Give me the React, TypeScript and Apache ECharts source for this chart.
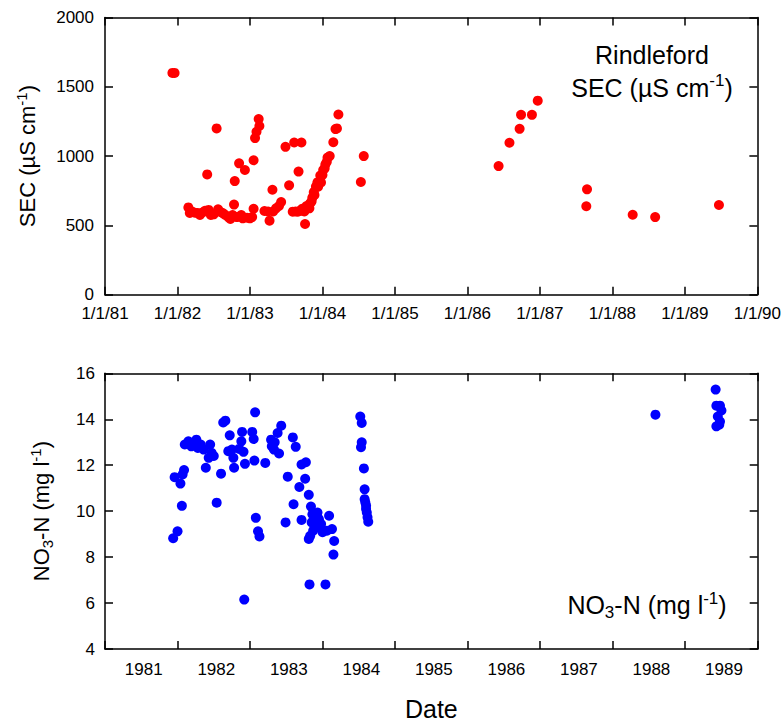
import React, { useEffect, useRef } from "react";
import * as echarts from "echarts";

// ---- SEC (top panel) : decimal year, value (µS cm-1)
const secDates = [
  1981.93, 1981.96, 1982.15, 1982.17, 1982.2, 1982.24, 1982.28, 1982.31, 1982.35, 1982.38,
  1982.41, 1982.43, 1982.46, 1982.5, 1982.54, 1982.56, 1982.6, 1982.63, 1982.66, 1982.7,
  1982.73, 1982.76, 1982.78, 1982.79, 1982.82, 1982.85, 1982.88, 1982.9, 1982.93, 1982.96,
  1983.0, 1983.03, 1983.05, 1983.05, 1983.07, 1983.09, 1983.12, 1983.13, 1983.2, 1983.25,
  1983.27, 1983.31, 1983.32, 1983.36, 1983.4, 1983.43, 1983.49, 1983.54, 1983.59, 1983.61,
  1983.63, 1983.66, 1983.67, 1983.69, 1983.71, 1983.72, 1983.75, 1983.76, 1983.78, 1983.8,
  1983.82, 1983.83, 1983.85, 1983.86, 1983.88, 1983.89, 1983.91, 1983.93, 1983.94, 1983.96,
  1983.97, 1983.98, 1984.0, 1984.01, 1984.03, 1984.04, 1984.06, 1984.07, 1984.1, 1984.15,
  1984.18, 1984.2, 1984.22, 1984.53, 1984.57, 1986.43, 1986.58, 1986.72, 1986.74, 1986.89,
  1986.97, 1987.64, 1987.65, 1988.28, 1988.59, 1989.47,
];
const secValues = [
  1600, 1600, 630, 590, 600, 592, 590, 575, 595, 605,
  868, 612, 575, 580, 1200, 616, 595, 587, 575, 560,
  546, 575, 650, 820, 560, 948, 575, 551, 900, 555,
  551, 560, 620, 970, 1130, 1176, 1267, 1217, 604, 600,
  534, 757, 600, 623, 640, 668, 1067, 789, 599, 1098,
  600, 599, 888, 605, 1098, 620, 600, 510, 640, 635,
  623, 660, 672, 700, 740, 720, 780, 810, 779, 815,
  860, 810, 863, 900, 911, 940, 960, 990, 1000, 1100,
  1195, 1200, 1300, 813, 1000, 928, 1096, 1197, 1298, 1298,
  1400, 638, 760, 577, 560, 647,
];

// ---- NO3-N (bottom panel) : decimal year, value (mg l-1)
const no3Dates = [
  1981.94, 1981.96, 1982.0, 1982.04, 1982.06, 1982.07, 1982.09, 1982.1, 1982.15, 1982.19,
  1982.26, 1982.28, 1982.32, 1982.36, 1982.39, 1982.43, 1982.45, 1982.47, 1982.5, 1982.54,
  1982.6, 1982.63, 1982.66, 1982.7, 1982.72, 1982.75, 1982.77, 1982.78, 1982.85, 1982.88,
  1982.89, 1982.91, 1982.92, 1982.93, 1983.03, 1983.05, 1983.06, 1983.07, 1983.08, 1983.11,
  1983.13, 1983.21, 1983.29, 1983.3, 1983.33, 1983.34, 1983.38, 1983.4, 1983.43, 1983.49,
  1983.52, 1983.59, 1983.6, 1983.63, 1983.68, 1983.71, 1983.71, 1983.76, 1983.77, 1983.81,
  1983.81, 1983.83, 1983.82, 1983.84, 1983.85, 1983.86, 1983.87, 1983.89, 1983.9, 1983.92,
  1983.93, 1983.95, 1983.97, 1983.98, 1984.0, 1984.04, 1984.06, 1984.09, 1984.13, 1984.15,
  1984.16, 1984.52, 1984.54, 1984.54, 1984.53, 1984.57, 1984.58, 1984.58, 1984.59, 1984.6,
  1984.6, 1984.61, 1984.62, 1984.63, 1988.59, 1989.42, 1989.43, 1989.48, 1989.5, 1989.45,
  1989.48, 1989.43, 1989.47,
];
const no3Values = [
  8.82, 11.48, 9.12, 11.2, 10.23, 11.6, 11.79, 12.9, 13.04, 12.82,
  13.11, 12.75, 12.9, 12.68, 11.89, 12.32, 12.9, 12.54, 12.4, 10.37,
  11.63, 13.86, 13.94, 12.61, 13.3, 12.68, 12.32, 11.89, 12.71, 13.04,
  13.45, 12.58, 6.15, 12.06, 13.45, 13.14, 12.2, 14.3, 9.71, 9.12,
  8.9, 12.1, 13.11, 12.82, 12.68, 13.0, 13.4, 12.51, 13.72, 9.51,
  11.5, 13.21, 10.3, 12.8, 11.05, 12.03, 9.62, 11.41, 12.13, 10.71,
  8.79, 8.93, 6.81, 10.2, 9.51, 9.87, 9.15, 9.44, 9.37, 9.8,
  9.94, 9.65, 9.3, 9.44, 9.08, 6.81, 9.15, 9.8, 9.22, 8.11,
  8.7, 14.12, 13.84, 13.0, 12.78, 11.86, 10.95, 10.52, 10.38, 10.23,
  10.09, 9.94, 9.73, 9.54, 14.2, 15.29, 14.59, 14.59, 14.38, 14.12,
  13.9, 13.69, 13.76,
];

// ---- tick labels
const yearLabels = ["1981", "1982", "1983", "1984", "1985", "1986", "1987", "1988", "1989"];
const yearMin = 1981;
const yearMax = 1990;

const FONT = '"Liberation Sans", Arial, Helvetica, sans-serif';

export default function App() {
  const ref = useRef<HTMLDivElement>(null);

  useEffect(() => {
    if (!ref.current) return;
    const chart = echarts.init(ref.current, undefined, { renderer: "svg" });

    const secData = secDates.map((d, i) => [d, secValues[i]]);
    const no3Data = no3Dates.map((d, i) => [d, no3Values[i]]);

    const lineStyle = { color: "#000", width: 1.5 };
    const tickIn = { show: true, inside: true, length: 8, lineStyle: { color: "#000", width: 1.5 } };
    const labelStyle = { color: "#000", fontSize: 17, fontFamily: FONT };

    const frameX = (gridIndex: number, position: "top" | "bottom") => ({
      type: "value" as const,
      gridIndex,
      position,
      min: yearMin,
      max: yearMax,
      interval: 1,
      axisLine: { show: true, onZero: false, lineStyle },
      axisTick: tickIn,
      axisLabel: { show: false },
      splitLine: { show: false },
    });

    const frameY = (gridIndex: number, min: number, max: number, interval: number) => ({
      type: "value" as const,
      gridIndex,
      position: "right" as const,
      min,
      max,
      interval,
      axisLine: { show: true, onZero: false, lineStyle },
      axisTick: tickIn,
      axisLabel: { show: false },
      splitLine: { show: false },
    });

    const richBase = (size: number) => ({
      m: { fontSize: size, fontFamily: FONT, color: "#000" },
      sup: { fontSize: Math.round(size * 0.68), fontFamily: FONT, color: "#000", padding: [0, 0, Math.round(size * 0.55), 0] },
      sub: { fontSize: Math.round(size * 0.68), fontFamily: FONT, color: "#000", padding: [Math.round(size * 0.6), 0, 0, 0] },
    });

    const plain = (v: number) => String(v);

    const option: any = {
      animation: false,
      backgroundColor: "#fff",
      grid: [
        { left: 105, top: 17.5, width: 652.7, height: 277.2, containLabel: false },
        { left: 105, top: 373.3, width: 652.7, height: 277.4, containLabel: false },
      ],
      xAxis: [
        {
          ...frameX(0, "bottom"),
          axisLabel: {
            show: true,
            ...labelStyle,
            margin: 10,
            formatter: (v: number) => "1/1/" + String(Math.round(v) % 100).padStart(2, "0"),
          },
        },
        frameX(0, "top"),
        {
          ...frameX(1, "bottom"),
          name: "Date",
          nameLocation: "middle",
          nameGap: 47,
          nameTextStyle: { fontSize: 25, fontFamily: FONT, color: "#000" },
        },
        frameX(1, "top"),
        {
          type: "category",
          gridIndex: 1,
          position: "bottom",
          data: yearLabels,
          boundaryGap: true,
          axisLine: { show: false },
          axisTick: { show: false },
          splitLine: { show: false },
          axisLabel: { ...labelStyle, margin: 12, interval: 0, padding: [0, 0, 0, 5] },
        },
      ],
      yAxis: [
        {
          type: "value",
          gridIndex: 0,
          position: "left",
          min: 0,
          max: 2000,
          interval: 500,
          axisLine: { show: true, onZero: false, lineStyle },
          axisTick: tickIn,
          axisLabel: { ...labelStyle, margin: 11, formatter: plain },
          splitLine: { show: false },
          name: "{m|SEC (µS cm}{sup|-1}{m|)}",
          nameLocation: "middle",
          nameRotate: 90,
          nameGap: 64,
          nameTextStyle: { rich: richBase(22) },
        },
        frameY(0, 0, 2000, 500),
        {
          type: "value",
          gridIndex: 1,
          position: "left",
          min: 4,
          max: 16,
          interval: 2,
          axisLine: { show: true, onZero: false, lineStyle },
          axisTick: tickIn,
          axisLabel: { ...labelStyle, margin: 10, formatter: plain },
          splitLine: { show: false },
          name: "{m|NO}{sub|3}{m|-N (mg l}{sup|-1}{m|)}",
          nameLocation: "middle",
          nameRotate: 90,
          nameGap: 50,
          nameTextStyle: { rich: richBase(22) },
        },
        frameY(1, 4, 16, 2),
      ],
      series: [
        {
          type: "scatter",
          xAxisIndex: 0,
          yAxisIndex: 0,
          data: secData,
          symbol: "circle",
          symbolSize: 10,
          itemStyle: { color: "#ff0000", opacity: 1 },
          emphasis: { disabled: true },
        },
        {
          type: "scatter",
          xAxisIndex: 2,
          yAxisIndex: 2,
          data: no3Data,
          symbol: "circle",
          symbolSize: 10,
          itemStyle: { color: "#0000ff", opacity: 1 },
          emphasis: { disabled: true },
        },
      ],
      graphic: [
        {
          type: "text",
          x: 652,
          y: 71,
          style: {
            text: "{m|Rindleford}\n{m|SEC (µS cm}{sup|-1}{m|)}",
            align: "center",
            verticalAlign: "middle",
            rich: {
              m: { fontSize: 25, fontFamily: FONT, color: "#000", lineHeight: 33 },
              sup: { fontSize: 17, fontFamily: FONT, color: "#000", lineHeight: 17, padding: [0, 0, 14, 0] },
            },
          },
        },
        {
          type: "text",
          x: 647,
          y: 605,
          style: {
            text: "{m|NO}{sub|3}{m|-N (mg l}{sup|-1}{m|)}",
            align: "center",
            verticalAlign: "middle",
            rich: {
              m: { fontSize: 25, fontFamily: FONT, color: "#000", lineHeight: 33 },
              sup: { fontSize: 17, fontFamily: FONT, color: "#000", lineHeight: 17, padding: [0, 0, 14, 0] },
              sub: { fontSize: 17, fontFamily: FONT, color: "#000", lineHeight: 17, padding: [15, 0, 0, 0] },
            },
          },
        },
      ],
    };

    chart.setOption(option);
    return () => chart.dispose();
  }, []);

  return (
    <div
      ref={ref}
      style={{ position: "absolute", left: 0, top: 0, width: 784, height: 722, background: "#fff" }}
    />
  );
}
